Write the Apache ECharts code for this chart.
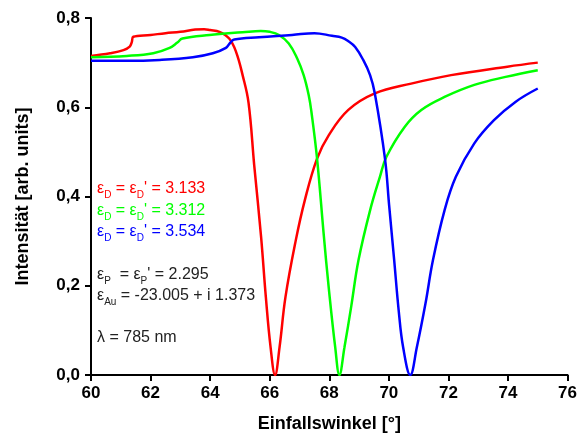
<!DOCTYPE html>
<html><head><meta charset="utf-8">
<script src="https://cdn.jsdelivr.net/npm/echarts@6/dist/echarts.min.js"></script>
<style>html,body{margin:0;padding:0;background:#fff}#c{width:580px;height:439px}</style>
</head><body><div id="c"></div>
<script>
const xTicks = [60, 62, 64, 66, 68, 70, 72, 74, 76];
const yTicks = [0, 0.2, 0.4, 0.6, 0.8];
const redX = [60.0, 60.64, 61.09, 61.3, 61.37, 61.42, 62.0, 62.5, 63.0, 63.5, 63.8, 64.0, 64.31, 64.64, 64.87, 65.09, 65.29, 65.48, 65.71, 65.87, 66.03, 66.18, 66.33, 66.53, 66.87, 67.18, 67.59, 67.98, 68.64, 69.53, 70.75, 72.09, 73.98, 75.0];
const redY = [0.715, 0.721, 0.728, 0.736, 0.746, 0.758, 0.762, 0.766, 0.769, 0.774, 0.775, 0.773, 0.769, 0.754, 0.724, 0.672, 0.610, 0.470, 0.310, 0.175, 0.062, 0.0, 0.062, 0.175, 0.30, 0.392, 0.485, 0.537, 0.594, 0.631, 0.653, 0.672, 0.691, 0.700];
const greenX = [60.0, 61.2, 62.09, 62.64, 62.9, 63.07, 63.98, 65.09, 65.7, 66.0, 66.31, 66.64, 66.92, 67.14, 67.31, 67.4, 67.59, 67.82, 67.98, 68.2, 68.34, 68.51, 68.74, 68.98, 69.37, 69.70, 69.92, 70.53, 71.09, 71.87, 72.87, 73.92, 75.0];
const greenY = [0.712, 0.715, 0.721, 0.733, 0.745, 0.754, 0.762, 0.768, 0.771, 0.769, 0.762, 0.743, 0.710, 0.672, 0.627, 0.590, 0.485, 0.31, 0.197, 0.062, 0.0, 0.062, 0.155, 0.257, 0.369, 0.444, 0.489, 0.556, 0.594, 0.623, 0.650, 0.668, 0.683];
const blueX = [60.0, 61.2, 62.31, 63.42, 64.09, 64.53, 64.68, 64.81, 65.64, 66.75, 67.5, 68.09, 68.42, 68.64, 68.87, 69.14, 69.37, 69.53, 69.87, 70.01, 70.18, 70.33, 70.48, 70.72, 70.94, 71.23, 71.48, 71.87, 72.25, 72.87, 73.53, 74.25, 75.0];
const blueY = [0.704, 0.704, 0.706, 0.712, 0.721, 0.733, 0.745, 0.752, 0.757, 0.762, 0.766, 0.760, 0.756, 0.748, 0.735, 0.706, 0.672, 0.631, 0.485, 0.380, 0.257, 0.145, 0.062, 0.0, 0.062, 0.160, 0.257, 0.369, 0.444, 0.519, 0.571, 0.612, 0.642];

const pair = (xs, ys) => xs.map((x, i) => [x, ys[i]]);
const chart = echarts.init(document.getElementById('c'), null, {renderer: 'canvas'});
const FONT = '"Liberation Sans", Arial, sans-serif';
const axisCommon = {
  axisLine: {show: true, lineStyle: {color: '#000', width: 2}},
  axisTick: {show: true, inside: false, length: 6, lineStyle: {color: '#000', width: 2}},
  splitLine: {show: false},
  axisLabel: {color: '#000', fontFamily: FONT, fontWeight: 'bold', fontSize: 17}
};
const mkRich = (c) => ({
  e: {fontSize: 16, color: c, fontFamily: FONT, lineHeight: 18, verticalAlign: 'bottom'},
  s: {fontSize: 10, color: c, fontFamily: FONT, lineHeight: 18, verticalAlign: 'bottom', padding: [0, 0, -3, 0]}
});
const ann = (top, txt, c) => ({
  type: 'text', left: 97, top: top,
  style: {text: txt, rich: mkRich(c), fill: c, font: '16px ' + FONT}
});
const lineSeries = (xs, ys, c) => ({
  type: 'line', data: pair(xs, ys), showSymbol: false, smooth: 0.4,
  lineStyle: {color: c, width: 2.5}
});
chart.setOption({
  animation: false,
  backgroundColor: '#fff',
  grid: {left: 91, right: 9, top: 18, bottom: 64, containLabel: false},
  xAxis: Object.assign({}, axisCommon, {
    type: 'value', min: xTicks[0], max: xTicks[xTicks.length - 1], interval: 2,
    name: 'Einfallswinkel [°]', nameLocation: 'middle', nameGap: 40,
    nameTextStyle: {color: '#000', fontFamily: FONT, fontWeight: 'bold', fontSize: 18},
    axisLabel: Object.assign({}, axisCommon.axisLabel, {margin: 10})
  }),
  yAxis: Object.assign({}, axisCommon, {
    type: 'value', min: yTicks[0], max: yTicks[yTicks.length - 1], interval: 0.2,
    name: 'Intensität [arb. units]', nameLocation: 'middle', nameGap: 59, nameRotate: 90,
    nameTextStyle: {color: '#000', fontFamily: FONT, fontWeight: 'bold', fontSize: 18},
    axisLabel: Object.assign({}, axisCommon.axisLabel, {margin: 11,
      formatter: v => v.toFixed(1).replace('.', ',')})
  }),
  series: [
    lineSeries(redX, redY, '#ff0000'),
    lineSeries(greenX, greenY, '#00ff00'),
    lineSeries(blueX, blueY, '#0000ff')
  ],
  graphic: [
    ann(181, '{e|ε}{s|D}{e| = ε}{s|D}{e|\' = 3.133}', '#ff0000'),
    ann(203, '{e|ε}{s|D}{e| = ε}{s|D}{e|\' = 3.312}', '#00ff00'),
    ann(224, '{e|ε}{s|D}{e| = ε}{s|D}{e|\' = 3.534}', '#0000ff'),
    ann(267, '{e|ε}{s|P}{e|  = ε}{s|P}{e|\' = 2.295}', '#222222'),
    ann(288, '{e|ε}{s|Au}{e| = -23.005 + i 1.373}', '#222222'),
    ann(330, '{e|λ = 785 nm}', '#222222')
  ]
});
</script></body></html>
